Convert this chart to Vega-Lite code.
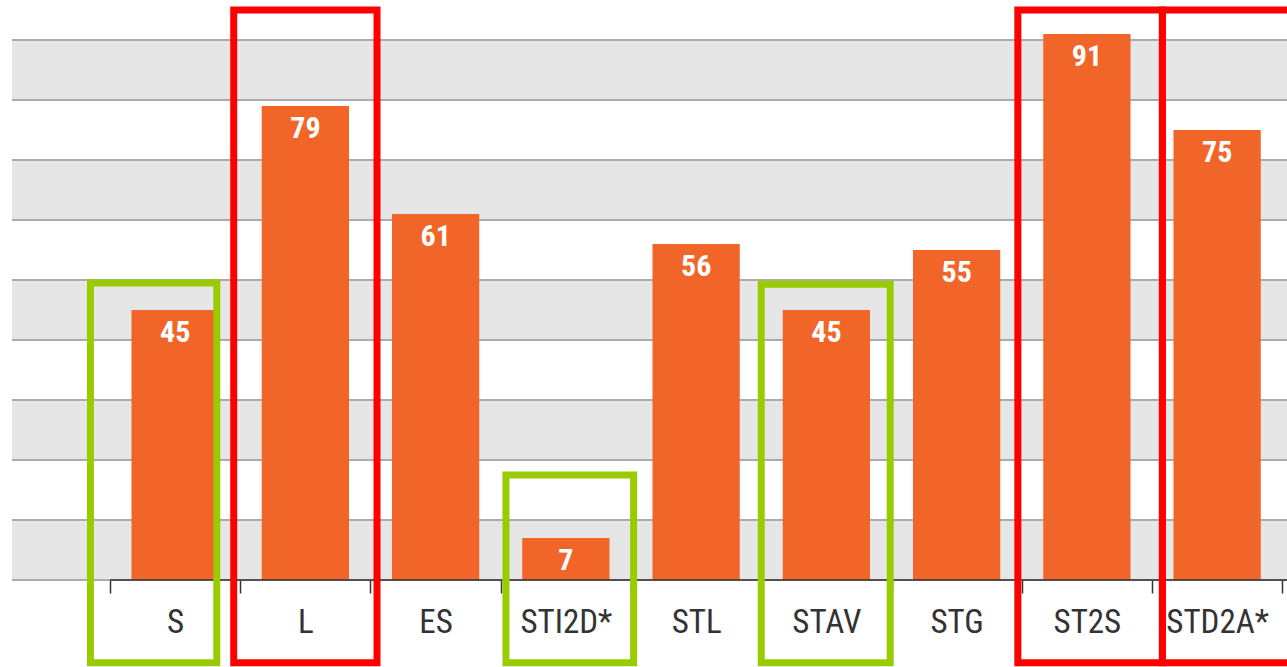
{
  "$schema": "https://vega.github.io/schema/vega-lite/v6.json",
  "width": 1275,
  "height": 580,
  "autosize": {"type": "none"},
  "padding": {"left": 12, "top": 0, "right": 0, "bottom": 87},
  "background": "white",
  "config": {"view": {"stroke": null}},
  "datasets": {
    "bars": [
      {"serie": "S", "taux": 45},
      {"serie": "L", "taux": 79},
      {"serie": "ES", "taux": 61},
      {"serie": "STI2D*", "taux": 7},
      {"serie": "STL", "taux": 56},
      {"serie": "STAV", "taux": 45},
      {"serie": "STG", "taux": 55},
      {"serie": "ST2S", "taux": 91},
      {"serie": "STD2A*", "taux": 75}
    ],
    "bands": [
      {"from": 0, "to": 10},
      {"from": 20, "to": 30},
      {"from": 40, "to": 50},
      {"from": 60, "to": 70},
      {"from": 80, "to": 90}
    ],
    "grid": [
      {"level": 0}, {"level": 10}, {"level": 20}, {"level": 30}, {"level": 40},
      {"level": 50}, {"level": 60}, {"level": 70}, {"level": 80}, {"level": 90}
    ],
    "boxes": [
      {"serie": "S", "flag": "vert", "from": -0.15, "to": 0.82, "top": 49.5, "bottom": -13.8},
      {"serie": "L", "flag": "rouge", "from": 0.95, "to": 2.05, "top": 95, "bottom": -13.8},
      {"serie": "STI2D*", "flag": "vert", "from": 3.04, "to": 4.02, "top": 17.5, "bottom": -13.8},
      {"serie": "STAV", "flag": "vert", "from": 5.0, "to": 5.99, "top": 49.3, "bottom": -13.8},
      {"serie": "ST2S", "flag": "rouge", "from": 6.97, "to": 8.08, "top": 95, "bottom": -13.8},
      {"serie": "STD2A*", "flag": "rouge", "from": 8.08, "to": 9.14, "top": 95, "bottom": -13.8}
    ],
    "baseline": [{"start": 0, "end": 9.2, "level": 0}]
  },
  "layer": [
    {
      "data": {"name": "bands"},
      "mark": {"type": "rect", "color": "#E6E6E6"},
      "encoding": {
        "y": {"field": "from", "type": "quantitative", "scale": {"domain": [0, 96.667], "nice": false, "zero": true}, "axis": null},
        "y2": {"field": "to"}
      }
    },
    {
      "data": {"name": "grid"},
      "mark": {"type": "rule", "color": "#ABABAB", "strokeWidth": 2},
      "encoding": {"y": {"field": "level", "type": "quantitative"}}
    },
    {
      "data": {"name": "bars"},
      "layer": [
        {
          "mark": {"type": "bar", "color": "#F26529", "width": {"band": 0.67}},
          "encoding": {
            "x": {
              "field": "serie", "type": "nominal", "sort": null,
              "scale": {"paddingInner": 0, "paddingOuter": 0.3944, "align": 0.9538},
              "axis": {
                "title": null, "domain": false, "grid": false,
                "tickBand": "extent", "tickSize": 13, "tickColor": "#333333", "tickWidth": 1.5,
                "labelAngle": 0, "labelBaseline": "alphabetic", "labelPadding": 39,
                "labelFont": "Roboto Condensed, DejaVu Sans Condensed, Liberation Sans Narrow, Roboto, sans-serif", "labelFontSize": 33,
                "labelColor": "#333333"
              }
            },
            "y": {"field": "taux", "type": "quantitative"}
          }
        },
        {
          "mark": {"type": "text", "color": "white", "font": "Roboto Condensed, DejaVu Sans Condensed, Liberation Sans Narrow, Roboto, sans-serif", "fontWeight": "bold", "fontSize": 30, "baseline": "alphabetic", "align": "center", "dy": 32},
          "encoding": {
            "x": {"field": "serie", "type": "nominal", "sort": null},
            "y": {"field": "taux", "type": "quantitative"},
            "text": {"field": "taux", "type": "quantitative"}
          }
        }
      ]
    },
    {
      "layer": [
        {
          "data": {"name": "baseline"},
          "mark": {"type": "rule", "color": "#333333", "strokeWidth": 1.5},
          "encoding": {
            "x": {"field": "start", "type": "quantitative", "scale": {"domain": [-0.7524, 9.0365], "nice": false, "zero": false}, "axis": null},
            "x2": {"field": "end"},
            "y": {"field": "level", "type": "quantitative"}
          }
        },
        {
          "data": {"name": "boxes"},
          "mark": {"type": "rect", "fillOpacity": 0, "strokeWidth": 7},
          "encoding": {
            "x": {"field": "from", "type": "quantitative"},
            "x2": {"field": "to"},
            "y": {"field": "top", "type": "quantitative"},
            "y2": {"field": "bottom"},
            "stroke": {"field": "flag", "type": "nominal", "scale": {"domain": ["rouge", "vert"], "range": ["#FF0000", "#99CC00"]}, "legend": null}
          }
        }
      ]
    }
  ],
  "resolve": {"scale": {"x": "independent"}}
}
